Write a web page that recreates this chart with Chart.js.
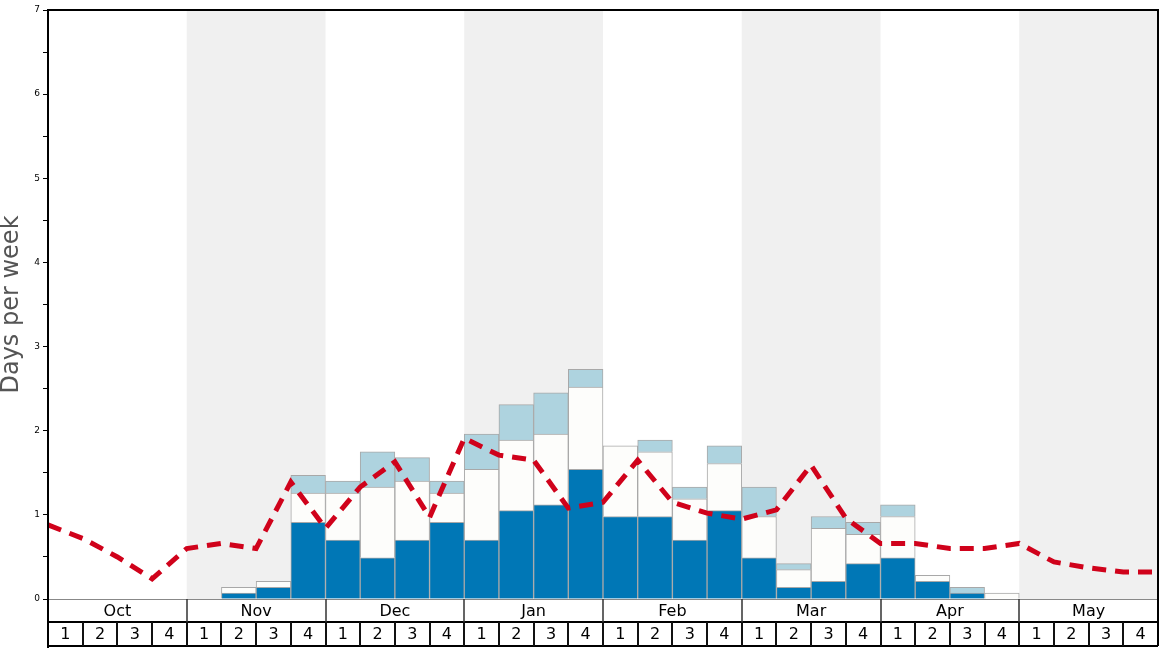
<!DOCTYPE html>
<html>
<head>
<meta charset="utf-8">
<script src="https://cdn.jsdelivr.net/npm/chart.js@4/dist/chart.umd.min.js"></script>
<style>
  html, body { margin: 0; padding: 0; background: #fff; }
  #wrap { width: 1168px; height: 648px; position: relative; }
</style>
</head>
<body>
<div id="wrap"><canvas id="chart"></canvas></div>
<script>
const months = ['Oct', 'Nov', 'Dec', 'Jan', 'Feb', 'Mar', 'Apr', 'May'];
const weekNums = ['1', '2', '3', '4'];
const yTicks = [0, 1, 2, 3, 4, 5, 6, 7];

// stacked bar segments, one value per week (Oct 1 .. May 4)
const deepDays = [0, 0, 0, 0, 0, 0.07, 0.14, 0.91, 0.7, 0.49, 0.7, 0.91, 0.7, 1.05, 1.12, 1.54,
    0.98, 0.98, 0.7, 1.05, 0.49, 0.14, 0.21, 0.42, 0.49, 0.21, 0.07, 0, 0, 0, 0, 0];
const midDays = [0, 0, 0, 0, 0, 0.07, 0.07, 0.35, 0.56, 0.84, 0.7, 0.35, 0.84, 0.84, 0.84, 0.98,
    0.84, 0.77, 0.49, 0.56, 0.49, 0.21, 0.63, 0.35, 0.49, 0.07, 0, 0.07, 0, 0, 0, 0];
const topDays = [0, 0, 0, 0, 0, 0, 0, 0.21, 0.14, 0.42, 0.28, 0.14, 0.42, 0.42, 0.49, 0.21,
    0, 0.14, 0.14, 0.21, 0.35, 0.07, 0.14, 0.14, 0.14, 0, 0.07, 0, 0, 0, 0, 0];
// average line, one point per week boundary (33 points)
const averageDays = [0.88, 0.72, 0.5, 0.24, 0.6, 0.66, 0.6, 1.39, 0.84, 1.33, 1.63, 0.97, 1.91,
    1.71, 1.65, 1.08, 1.15, 1.65, 1.15, 1.02, 0.95, 1.06, 1.59, 0.96, 0.66, 0.66, 0.6, 0.6,
    0.66, 0.44, 0.37, 0.32, 0.32];

const weekLabels = [];
months.forEach(m => weekNums.forEach(w => weekLabels.push(m + ' ' + w)));
const edgeLabels = averageDays.map((v, i) => String(i));
const nz = arr => arr.map(v => v || null);

const ROW1 = 599, ROW2 = 622, ROW3 = 646;
const FONT = '"DejaVu Sans", sans-serif';

const framePlugin = {
    id: 'frame',
    beforeDatasetsDraw(chart) {
        const { ctx, chartArea } = chart;
        const xl = chart.scales.xl;
        ctx.save();
        ctx.fillStyle = '#f0f0f0';
        months.forEach((m, i) => {
            if (i % 2 === 1) {
                const a = xl.getPixelForValue(i * 4);
                const b = xl.getPixelForValue(i * 4 + 4);
                ctx.fillRect(a, chartArea.top, b - a, chartArea.bottom - chartArea.top);
            }
        });
        ctx.restore();
    },
    afterDraw(chart) {
        const { ctx, chartArea } = chart;
        const xl = chart.scales.xl;
        const L = chartArea.left, R = chartArea.right, T = chartArea.top;
        ctx.save();
        // axis base line
        ctx.strokeStyle = '#888';
        ctx.lineWidth = 1;
        ctx.beginPath();
        ctx.moveTo(L, ROW1 + 0.5); ctx.lineTo(R, ROW1 + 0.5);
        ctx.stroke();
        // row lines
        ctx.strokeStyle = '#000';
        ctx.lineWidth = 2;
        ctx.beginPath();
        ctx.moveTo(L, ROW2); ctx.lineTo(R, ROW2);
        ctx.moveTo(L, ROW3); ctx.lineTo(R, ROW3);
        ctx.stroke();
        // month separators
        ctx.strokeStyle = '#333';
        ctx.lineWidth = 1.5;
        ctx.beginPath();
        for (let i = 1; i < months.length; i++) {
            const x = Math.round(xl.getPixelForValue(i * 4));
            ctx.moveTo(x, ROW1); ctx.lineTo(x, ROW2);
        }
        ctx.stroke();
        // week separators
        ctx.strokeStyle = '#111';
        ctx.lineWidth = 2;
        ctx.beginPath();
        for (let i = 1; i < weekLabels.length; i++) {
            const x = Math.round(xl.getPixelForValue(i));
            ctx.moveTo(x, ROW2); ctx.lineTo(x, ROW3);
        }
        ctx.stroke();
        // outer frame
        ctx.strokeStyle = '#000';
        ctx.lineWidth = 2;
        ctx.beginPath();
        ctx.moveTo(L, 648); ctx.lineTo(L, T); ctx.lineTo(R, T); ctx.lineTo(R, ROW3);
        ctx.stroke();
        // labels
        ctx.fillStyle = '#000';
        ctx.font = '16px ' + FONT;
        ctx.textAlign = 'center';
        ctx.textBaseline = 'middle';
        months.forEach((m, i) => {
            const x = (xl.getPixelForValue(i * 4) + xl.getPixelForValue(i * 4 + 4)) / 2;
            ctx.fillText(m, x, (ROW1 + ROW2) / 2 + 1);
        });
        weekLabels.forEach((w, i) => {
            const x = (xl.getPixelForValue(i) + xl.getPixelForValue(i + 1)) / 2;
            ctx.fillText(weekNums[i % 4], x, (ROW2 + ROW3) / 2 + 1);
        });
        ctx.restore();
    }
};

const barStyle = {
    type: 'bar',
    xAxisID: 'x',
    stack: 'days',
    grouped: false,
    barPercentage: 1,
    categoryPercentage: 1,
    borderWidth: 1,
    borderColor: '#a8a8a8',
    order: 1
};

new Chart(document.getElementById('chart'), {
    data: {
        labels: weekLabels,
        datasets: [
            { ...barStyle, label: 'deep', data: nz(deepDays), backgroundColor: '#0077b6' },
            { ...barStyle, label: 'mid', data: nz(midDays), backgroundColor: '#fdfdfb' },
            { ...barStyle, label: 'top', data: nz(topDays), backgroundColor: '#aed3df' },
            {
                type: 'line',
                label: 'average',
                xAxisID: 'xl',
                stack: 'days',
                data: averageDays,
                borderColor: '#d0021b',
                borderWidth: 5,
                borderDash: [14, 9],
                pointRadius: 0,
                tension: 0,
                fill: false,
                order: 0
            }
        ]
    },
    options: {
        responsive: true,
        maintainAspectRatio: false,
        animation: false,
        layout: { padding: { top: 10, right: 10, bottom: 49, left: 0 } },
        plugins: { legend: { display: false }, tooltip: { enabled: false } },
        scales: {
            x: { type: 'category', stacked: true, offset: true, display: false },
            xl: { type: 'category', labels: edgeLabels, offset: false, display: false },
            y: {
                stacked: true,
                min: 0,
                max: 7,
                afterFit: scale => { scale.width = 48; },
                ticks: {
                    stepSize: 0.5,
                    autoSkip: false,
                    padding: 3,
                    color: '#000',
                    font: { family: FONT, size: 9 },
                    callback: v => (yTicks.includes(v) ? String(v) : '')
                },
                grid: { drawOnChartArea: false, drawTicks: true, tickLength: 5, color: '#000' },
                border: { color: '#000', width: 2 },
                title: {
                    display: true,
                    text: 'Days per week',
                    color: '#555',
                    font: { family: FONT, size: 24 },
                    padding: { top: -3, bottom: 0 }
                }
            }
        }
    },
    plugins: [framePlugin]
});
</script>
</body>
</html>
